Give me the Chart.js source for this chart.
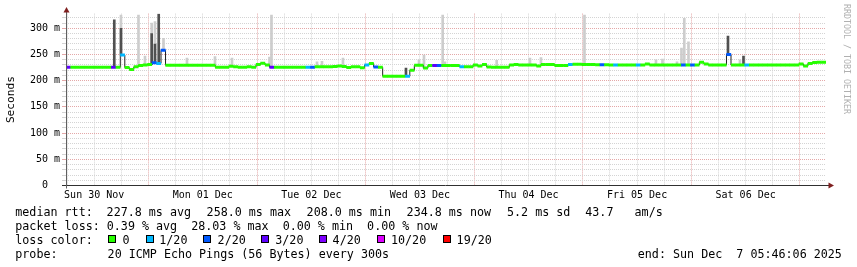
<!DOCTYPE html>
<html><head><meta charset="utf-8">
<script src="https://cdn.jsdelivr.net/npm/chart.js@4"></script>
<style>
html,body{margin:0;padding:0;background:#fff;}
#wrap{position:relative;width:857px;height:267px;overflow:hidden;background:#fff;}
canvas{position:absolute;left:0;top:0;}
.t{position:absolute;font-family:'DejaVu Sans Mono',monospace;font-size:11.7px;line-height:14px;white-space:pre;color:#000;}
.box{position:absolute;width:8px;height:8px;box-sizing:border-box;border:1px solid #000;}
#credit{position:absolute;left:842px;top:4px;writing-mode:vertical-rl;font-family:'DejaVu Sans Mono',monospace;font-size:8.3px;line-height:10px;color:#b0b0b0;white-space:pre;}
</style></head>
<body>
<div id="wrap">
<canvas id="c" width="857" height="267"></canvas>
<div id="credit">RRDTOOL / TOBI OETIKER</div>
<div id="legend"></div>
</div>
<script>
// ---- data ----
const startHour = 5.767; // Sun 30 Nov 05:46, hours since Sun 30 Nov 00:00
const dayLabels = ['Sun 30 Nov','Mon 01 Dec','Tue 02 Dec','Wed 03 Dec','Thu 04 Dec','Fri 05 Dec','Sat 06 Dec'];
const yMajorTicks = [0,50,100,150,200,250,300];
const yMajorLabels = ['0  ','50 m','100 m','150 m','200 m','250 m','300 m'];

// hourly median rtt (ms)
const medianRtt = [
 225.5,225.5,225.5,225.5,225.5,225.5,225.5,225.5,225.5,225.5,
 225.5,225.5,249,225,221.5,226.5,229,230,231,234,
 233,258,229.5,229.3,229.3,229.3,229.3,229.3,229.3,229.3,
 229.3,229.3,229.3,225.5,225.5,225.5,227.4,226.5,225.5,225.5,
 226.5,225.5,231,233.5,230,225.5,225.5,225.5,225.5,225.5,
 225.5,225.5,225.5,225.5,225.5,226.4,226.4,226.4,226.4,227,
 228,227,225,226.4,226.4,224.6,230,233,226,225.5,
 208.5,208.5,208.5,208.5,208.5,208.5,220,229.3,229.3,224,
 229,229,229,229,229,229,229,226.7,226.7,226.7,
 230,228,231,226,225.5,225.5,225.5,225.5,230,231,
 230,230,230,230,228,231,231,231,229,229,
 229,231,231.5,231.5,231,231,231,230.5,230.5,230.5,
 230,230,230,230,230,230,230,230,232,230,
 230,230,230,230,230,230,230,230,230,230,
 235,232,230,230,230,230,250,230,230,230,
 230,230,230,230,230,230,230,230,230,230,
 230,230,232,228,233,234.5,235,235
];
// loss events: hour index -> loss colour index
const lossIndex = [0,10,12,19,20,21,45,53,54,66,68,75,81,82,87,111,118,121,126,136,138,146,150];
const lossLevel = [3,3,1,2,1,2,3,1,2,1,2,1,3,2,1,1,2,1,1,2,2,2,1];

const lossNames  = ['0','1/20','2/20','3/20','4/20','10/20','19/20'];
const lossColors = ['#26ff00','#00b8ff','#0059ff','#5e00ff','#7e00ff','#dd00ff','#ff0000'];

// smoke (ping spread) spikes: time (hours since Sun 30 Nov 00:00) and top value (ms)
const smokeLightHour = [17.92,21.79,23.23,24.71,25.44,27.32,32.51,38.70,42.46,50.75,51.19,61.25,62.35,66.99,83.80,84.90,89.03,89.54,100.97,108.33,110.76,120.38,136.18,137.62,140.83,141.82,142.44,143.37,154.75];
const smokeLightTop  = [325,325,247,310,313,281,243,246,243,245,325,236,237,243,240,249,325,236,239,243,244,325,240,241,236,262,319,274,240];
const smokeDarkHour  = [16.44,17.92,24.71,25.44,26.26,80.92,152.10,155.53];
const smokeDarkTop   = [316,300,290,270,327,224,285,247];

// ---- chart ----
const FONT = "'DejaVu Sans Mono', monospace";
const minorGrid = '#d4d4d4';
const majorGrid = '#e4a8a8';

const lossOf = medianRtt.map(() => 0);
lossIndex.forEach((idx, k) => { lossOf[idx] = lossLevel[k]; });
const medAt = h => medianRtt[Math.min(medianRtt.length - 1, Math.max(0, Math.floor(h - startHour)))];

const medianPoints = medianRtt.map((v, i) => ({x: startHour + i + 0.5, y: v}));
const lightSmoke = smokeLightHour.map((h, k) => ({x: h, y: [medAt(h), smokeLightTop[k]]}));
const darkSmoke = smokeDarkHour.map((h, k) => ({x: h, y: [medAt(h), smokeDarkTop[k]]}));

const xTickHours = [];
for (let h = 6; h <= 168; h += 6) xTickHours.push(h);
const yTickValues = [];
for (let v = 0; v <= 320; v += 10) yTickValues.push(v);

const axesPlugin = {
  id: 'rrdAxes',
  afterDraw(chart) {
    const {ctx, chartArea: a} = chart;
    const y0 = chart.scales.y.getPixelForValue(0);
    const yb = Math.floor(y0) + 0.5;
    const xl = Math.floor(a.left) + 0.5;
    ctx.save();
    ctx.lineWidth = 1;
    ctx.strokeStyle = '#303030';
    ctx.beginPath(); ctx.moveTo(a.left - 4, yb); ctx.lineTo(a.right + 3, yb); ctx.stroke();
    ctx.strokeStyle = '#606060';
    ctx.beginPath(); ctx.moveTo(xl, yb + 3); ctx.lineTo(xl, a.top - 2); ctx.stroke();
    ctx.fillStyle = '#7f1f1f';
    ctx.beginPath(); ctx.moveTo(a.right + 2.5, yb - 3); ctx.lineTo(a.right + 8, yb); ctx.lineTo(a.right + 2.5, yb + 3); ctx.closePath(); ctx.fill();
    ctx.beginPath(); ctx.moveTo(xl - 3, a.top - 1); ctx.lineTo(xl, a.top - 6.5); ctx.lineTo(xl + 3, a.top - 1); ctx.closePath(); ctx.fill();
    ctx.restore();
  }
};

new Chart(document.getElementById('c'), {
  type: 'line',
  data: {
    datasets: [
      {
        type: 'line', label: 'median rtt', data: medianPoints, order: 1,
        stepped: 'middle', borderColor: '#202020', borderWidth: 1, fill: false,
        pointStyle: 'line', pointBorderWidth: 3, pointHoverRadius: 0,
        pointRadius: ctx => { const s = ctx.chart.scales.x; return (s.getPixelForValue(1) - s.getPixelForValue(0)) / 2 + 0.15; },
        pointBorderColor: ctx => lossColors[lossOf[ctx.dataIndex]]
      },
      { type: 'bar', label: 'smoke dark', data: darkSmoke, order: 2, backgroundColor: '#505050', barThickness: 2, grouped: false, borderWidth: 0 },
      { type: 'bar', label: 'smoke', data: lightSmoke, order: 3, backgroundColor: '#cdcdcd', barThickness: 2, grouped: false, borderWidth: 0 }
    ]
  },
  options: {
    responsive: false, animation: false, devicePixelRatio: 1, events: [],
    layout: { padding: { left: 0, right: 31, top: 13.6, bottom: 0 } },
    plugins: { legend: { display: false }, tooltip: { enabled: false }, title: { display: false } },
    scales: {
      x: {
        type: 'linear', min: startHour, max: startHour + 168, offset: false,
        afterBuildTicks: s => { s.ticks = xTickHours.map(v => ({value: v})); },
        afterFit: s => { s.height = 81.5; },
        grid: { offset: false, lineWidth: 1, drawTicks: false, tickLength: 0,
                color: c => (c.tick && c.tick.value % 24 === 0) ? majorGrid : minorGrid },
        border: { display: false, dash: [1, 1] },
        ticks: { autoSkip: false, maxRotation: 0, minRotation: 0, padding: 4, color: '#000',
                 font: { family: FONT, size: 10 },
                 callback: v => (v % 24 === 12) ? dayLabels[(v - 12) / 24] : '' }
      },
      y: {
        type: 'linear', min: 0, max: 328,
        afterBuildTicks: s => { s.ticks = yTickValues.map(v => ({value: v})); },
        afterFit: s => { s.width = 66; },
        grid: { lineWidth: 1, drawTicks: true, tickLength: 4,
                color: c => (c.tick && c.tick.value === 0) ? 'rgba(0,0,0,0)' : ((c.tick && c.tick.value % 50 === 0) ? majorGrid : minorGrid),
                tickColor: c => (c.tick && c.tick.value % 50 === 0) ? majorGrid : minorGrid },
        border: { display: false, dash: [1, 1] },
        ticks: { autoSkip: false, padding: 2, color: '#000', font: { family: FONT, size: 10 },
                 callback: v => { const k = yMajorTicks.indexOf(v); return k >= 0 ? yMajorLabels[k] : ''; } },
        title: { display: true, text: 'Seconds', color: '#000', font: { family: FONT, size: 11.2 }, padding: { top: 4.2, bottom: 0 } }
      }
    }
  },
  plugins: [axesPlugin]
});

// ---- legend text (HTML) ----
const legendItems = [
  ['median rtt:', 15.3, 204.5], ['227.8 ms avg', 106.6, 204.5], ['258.0 ms max', 206.6, 204.5],
  ['208.0 ms min', 306.6, 204.5], ['234.8 ms now', 406.6, 204.5], ['5.2 ms sd', 507, 204.5], ['43.7   am/s', 585.3, 204.5],
  ['packet loss: 0.39 % avg  28.03 % max  0.00 % min  0.00 % now', 15.3, 218.5],
  ['loss color:', 15.3, 232.5],
  ['probe:', 15.3, 246.5], ['20 ICMP Echo Pings (56 Bytes) every 300s', 107.6, 246.5],
  ['end: Sun Dec  7 05:46:06 2025', 637.8, 246.5]
];
const lossBoxX   = [108, 145.7, 203, 260.7, 318.5, 376.5, 442.5];
const lossLabelX = [122.6, 159.3, 217.6, 275.3, 332.6, 391, 456.6];
const lg = document.getElementById('legend');
legendItems.forEach(([txt, x, y]) => {
  const d = document.createElement('div'); d.className = 't'; d.textContent = txt;
  d.style.left = x + 'px'; d.style.top = y + 'px'; lg.appendChild(d);
});
lossNames.forEach((name, k) => {
  const b = document.createElement('div'); b.className = 'box';
  b.style.left = lossBoxX[k] + 'px'; b.style.top = '235px'; b.style.background = lossColors[k]; lg.appendChild(b);
  const d = document.createElement('div'); d.className = 't'; d.textContent = name;
  d.style.left = lossLabelX[k] + 'px'; d.style.top = '232.5px'; lg.appendChild(d);
});
</script>
</body></html>
